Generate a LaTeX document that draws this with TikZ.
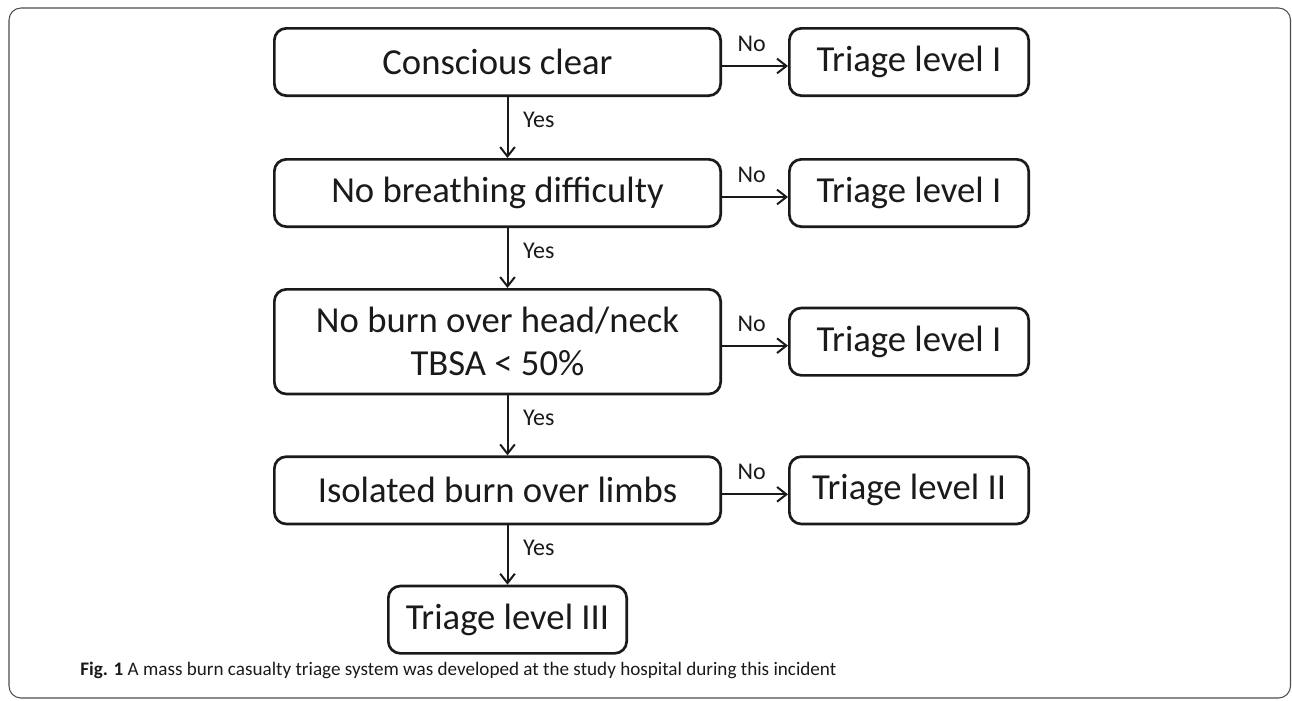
\documentclass[tikz,border=0pt]{standalone}
\usepackage{fontspec}
\setmainfont{Carlito}
\usepackage{xcolor}
\usepackage{tikz}
\usetikzlibrary{positioning, arrows.meta}
\definecolor{ink}{HTML}{1A1A1A}
\definecolor{framegray}{HTML}{4D4D4D}
\newcommand{\boxfont}{\fontsize{27.5}{32}\selectfont}
\newcommand{\lblfont}{\fontsize{18}{21}\selectfont}

\tikzset{
  mainbox/.style={draw=ink, line width=2pt, rounded corners=9pt,
                  minimum width=334.75pt, minimum height=50.5pt,
                  align=center, font=\boxfont, text=ink, inner sep=2pt},
  sidebox/.style={mainbox, minimum width=179.5pt},
  flowarrow/.style={draw=ink, line width=1.5pt,
                    -{Straight Barb[length=7pt, width=11pt, line width=1.5pt]}},
  lbl/.style={font=\lblfont, text=ink, inner sep=0pt}
}

\begin{document}
\begin{tikzpicture}[x=0.75pt, y=-0.75pt, node distance=45.75pt and 49.5pt]
  \useasboundingbox (0,0) rectangle (1292,700);
  \draw[framegray, line width=0.8pt, rounded corners=9pt] (9,8) rectangle (1290.5,698);

  % decision column
  \node[mainbox] (c1) at (497.5,62) {Conscious clear};
  \node[mainbox, below=of c1] (c2) {No breathing difficulty};
  \node[mainbox, below=45pt of c2, minimum height=78.5pt] (c3)
    {No burn over head/neck\\TBSA < 50\%};
  \node[mainbox, below=45pt of c3] (c4) {Isolated burn over limbs};
  \node[sidebox, below=44.5pt of c4, xshift=7.5pt, minimum width=178.75pt] (c5)
    {Triage level III};

  % outcomes
  \node[sidebox, right=of c1] (t1) {Triage level I};
  \node[sidebox, right=of c2] (t2) {Triage level I};
  \node[sidebox, right=of c3] (t3) {Triage level I};
  \node[sidebox, right=of c4] (t4) {Triage level II};

  % yes branches
  \draw[flowarrow] (c1.south -| c5.north) -- node[lbl, right=11pt, pos=0.38] {Yes} (c2.north -| c5.north);
  \draw[flowarrow] (c2.south -| c5.north) -- node[lbl, right=11pt, pos=0.38] {Yes} (c3.north -| c5.north);
  \draw[flowarrow] (c3.south -| c5.north) -- node[lbl, right=11pt, pos=0.38] {Yes} (c4.north -| c5.north);
  \draw[flowarrow] (c4.south -| c5.north) -- node[lbl, right=11pt, pos=0.38] {Yes} (c5.north);

  % no branches
  \foreach \i in {1,...,4}
    \draw[flowarrow] ([yshift=-3pt]c\i.east) -- node[lbl, above=10pt, pos=0.45] {No}
      ([yshift=-3pt]c\i.east -| t\i.west);

  \node[anchor=base west, inner sep=0pt, font=\fontsize{14.35}{17}\selectfont, text=ink]
    (cap) at (80,675) {\textbf{Fig. 1} A mass burn casualty triage system was developed at the study hospital during this incident};
\end{tikzpicture}
\end{document}
